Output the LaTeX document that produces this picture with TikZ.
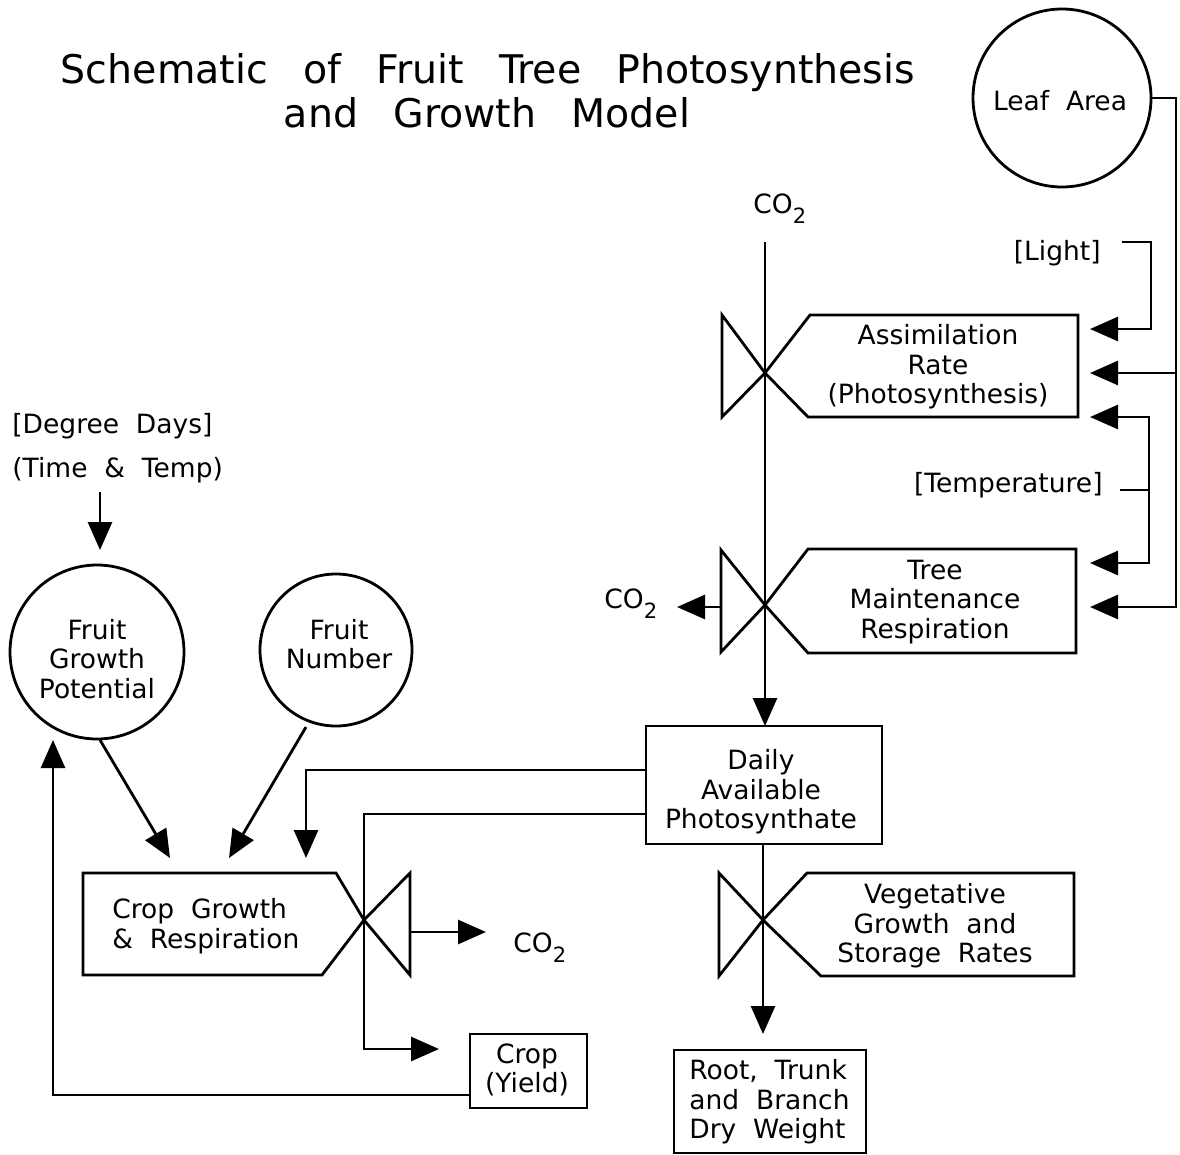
\documentclass[tikz,border=0pt]{standalone}
\usepackage{fontspec}
\setmainfont{DejaVu Sans}[WordSpace=2]
\newfontfamily\titlefont{DejaVu Sans}[WordSpace=2.8]
\usetikzlibrary{arrows.meta}
\newcommand{\cotwo}{CO\raisebox{-0.38em}{\fontsize{21}{21}\selectfont 2}}
\begin{document}
\begin{tikzpicture}[x=1pt,y=-1pt,line width=2.8pt,line join=miter,
  lbl/.style={font=\fontsize{26.5}{29.5}\selectfont,align=center,inner sep=0pt},
  ttl/.style={font=\titlefont\fontsize{39.5}{46}\selectfont,inner sep=0pt},
  circ/.style={draw,circle,inner sep=0pt},
  tip/.style={-{Triangle[length=28pt,width=24pt]}},
  tips/.style={{Triangle[length=28pt,width=24pt]}-{Triangle[length=28pt,width=24pt]}}]
\useasboundingbox[fill=white] (0,0) rectangle (1180,1154);

% title
\node[ttl,anchor=base] (title1) at (488,83) {Schematic of Fruit Tree Photosynthesis};
\node[ttl,anchor=base] (title2) at (487,127) {and Growth Model};

% circles
\node[circ,minimum size=178pt] (leaf) at (1062,98) {};
\node[lbl,anchor=base] (leaft) at (1060,110) {Leaf Area};
\node[circ,minimum size=174pt] (fgp) at (97,652) {};
\node[lbl] (fgpt) at (97,659) {Fruit\\Growth\\Potential};
\node[circ,minimum size=152pt] (fn) at (336,650) {};
\node[lbl] (fnt) at (339,644) {Fruit\\Number};

% valve centres
\coordinate (vA) at (765,373);
\coordinate (vT) at (765,605);
\coordinate (vV) at (763,920);
\coordinate (vC) at (364,920);

% assimilation
\draw (722,315) -- (722,417) -- (vA) -- cycle;
\draw (vA) -- (810,315) -- (1078,315) -- (1078,417) -- (808,417) -- cycle;
\node[lbl] (assim) at (938,367) {Assimilation\\Rate\\(Photosynthesis)};
% tree maintenance
\draw (721,550) -- (721,652) -- (vT) -- cycle;
\draw (vT) -- (808,549) -- (1076,549) -- (1076,653) -- (808,653) -- cycle;
\node[lbl] (tmr) at (935,602) {Tree\\Maintenance\\Respiration};
% vegetative
\draw (719,873) -- (719,976) -- (vV) -- cycle;
\draw (vV) -- (807,873) -- (1074,873) -- (1074,976) -- (821,976) -- cycle;
\node[lbl] (veg) at (935,926) {Vegetative\\Growth and\\Storage Rates};
% crop growth
\draw (410,873) -- (410,975) -- (vC) -- cycle;
\draw (vC) -- (336,873) -- (83,873) -- (83,975) -- (322,975) -- cycle;
\node[lbl,align=left,anchor=west] (cropg) at (111,926) {Crop Growth\\\& Respiration};

% boxes
\draw (646,726) rectangle (882,844);
\coordinate (dTop) at (765,726);
\node[lbl] (daily) at (761,792) {Daily\\Available\\Photosynthate};
\draw (674,1050) rectangle (866,1153);
\node[lbl,align=left,anchor=west] (root) at (688,1102) {Root, Trunk\\and Branch\\Dry Weight};
\draw (470,1034) rectangle (587,1108);
\node[lbl] (yield) at (527,1070) {Crop\\(Yield)};

% texts
\node[lbl,anchor=base west] (dd1) at (11,433) {[Degree Days]};
\node[lbl,anchor=base west] (dd2) at (11,477) {(Time \& Temp)};
\node[lbl,anchor=base east] (light) at (1102,260) {[Light]};
\node[lbl,anchor=base east] (temp) at (1104,492) {[Temperature]};
\node[lbl,anchor=base west] (co2a) at (752,213) {\cotwo};
\node[lbl,anchor=base west] (co2b) at (603,608) {\cotwo};
\node[lbl,anchor=base west] (co2c) at (512,952) {\cotwo};

% coordinates for connectors
\coordinate (co2top) at (765,242);
\coordinate (la1) at (1176,98);
\coordinate (la2) at (1176,607);
\coordinate (laA) at (1176,373);
\coordinate (tipA) at (1090,373);
\coordinate (tipT) at (1090,607);
\coordinate (l1) at (1122,242);
\coordinate (l2) at (1151,329);
\coordinate (tipL) at (1090,329);
\coordinate (t0) at (1120,490);
\coordinate (t1) at (1149,490);
\coordinate (tipA2) at (1090,417);
\coordinate (tipT2) at (1090,563);
\coordinate (tmrOut) at (721,607);
\coordinate (tmrTip) at (677,607);
\coordinate (dL1) at (646,770);
\coordinate (dL2) at (646,814);
\coordinate (cgTip1) at (306,858);
\coordinate (cgTip2) at (170,858);
\coordinate (cgTip3) at (229,858);
\coordinate (yTip) at (439,1049);
\coordinate (cOut) at (410,932);
\coordinate (cTip) at (486,932);
\coordinate (dBot) at (763,844);
\coordinate (rTip) at (763,1034);
\coordinate (fgpOut) at (100,740);
\coordinate (fnOut) at (306,727);
\coordinate (ddOut) at (100,492);
\coordinate (ddTip) at (100,550);
\coordinate (yL) at (470,1095);
\coordinate (fbTip) at (53,740);

% connectors
\draw[tip] (co2top) -- (dTop);
\draw[tip] (leaf.east) -- (la1) -- (la2) -- (tipT);
\draw[tip] (laA) -- (tipA);
\draw[tip] (l1) -| (l2) -- (tipL);
\draw[tips] (tipA2) -- (1149,417) -- (1149,563) -- (tipT2);
\draw (t0) -- (t1);
\draw[tip] (tmrOut) -- (tmrTip);
\draw[tip] (dL1) -| (cgTip1);
\draw[tip] (dL2) -| (364,1049) -- (yTip);
\draw[tip] (cOut) -- (cTip);
\draw[tip] (dBot) -- (rTip);
\draw[tip] (fgpOut) -- (cgTip2);
\draw[tip] (fnOut) -- (cgTip3);
\draw[tip] (ddOut) -- (ddTip);
\draw[tip] (yL) -| (fbTip);
\end{tikzpicture}
\end{document}
